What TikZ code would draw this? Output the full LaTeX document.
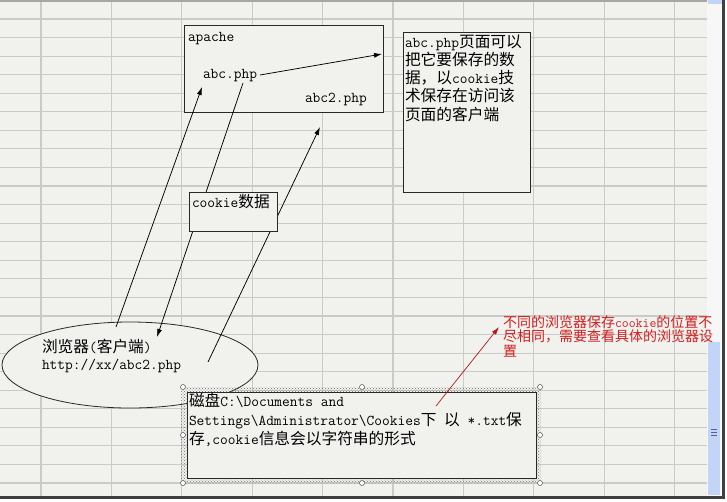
\documentclass[tikz,border=0pt]{standalone}
\usepackage{fontspec}
\newfontfamily\cjk{Noto Sans CJK SC}
\usetikzlibrary{arrows.meta,shapes.geometric,patterns}
\definecolor{bg}{RGB}{241,241,238}
\definecolor{gridc}{RGB}{202,202,200}
\definecolor{frame}{RGB}{40,40,40}
\definecolor{redtxt}{RGB}{210,30,30}
\definecolor{thumb}{RGB}{195,213,246}
\newcommand\zh[1]{{\cjk\fontsize{15.7}{19}\selectfont #1}}
\newcommand\zs[1]{{\cjk\fontsize{14}{14}\selectfont #1}}
\tikzset{
  txt/.style={anchor=base west, inner sep=0, outer sep=0, font=\ttfamily\fontsize{15}{19}\selectfont},
  redtext/.style={txt, text=redtxt, font=\ttfamily\fontsize{13.4}{14}\selectfont},
  box/.style={draw=frame, line width=0.9pt, fill=bg, inner sep=0, outer sep=0},
  arr/.style={draw=black, line width=0.75pt, -{Latex[length=8pt,width=5pt]}},
  handle/.style={circle, draw=black!70, fill=white, line width=0.5pt, minimum size=5pt, inner sep=0},
  gridline/.style={draw=gridc, line width=1.1pt}
}
\begin{document}
\begin{tikzpicture}[x=1pt,y=-1pt]
\useasboundingbox (0,0) rectangle (727,501);
% window background
\fill[white] (0,0) rectangle (727,501);
\fill[bg] (0,0) rectangle (722,497);
\foreach \i in {0,...,25} \draw[gridline] (0,{19+18.56*\i}) -- (707,{19+18.56*\i});
\foreach \i in {0,...,9} \draw[gridline] ({41+70.4*\i},0) -- ({41+70.4*\i},497);
\fill[gray!70] (0,0) rectangle (707,1.5);
% scroll bar
\fill[black!3] (707,1.5) rectangle (722,497);
\fill[thumb] (708,0) rectangle (722,4);
\fill[thumb] (708,342) rectangle (720,495);
\foreach \yy in {429,432,435} \draw[blue!30!gray, line width=0.6pt] (711,\yy) -- (717,\yy);
\fill[black!75] (722,0) rectangle (725,499);
\fill[black!75] (0,496) rectangle (725,499);

% apache box
\node[box, minimum width=199pt, minimum height=87pt] (apache) at (283.5,68.5) {};
\node[txt] (lblApache) at (188,41) {apache};
\node[txt] (abc) at (203,78) {abc.php};
\node[txt] (abcTwo) at (305,102) {abc2.php};
\coordinate (abcOut) at (260,75);
\coordinate (tipA) at (382,54);
\draw[arr] (abcOut) -- (tipA);

% note box
\node[box, minimum width=127pt, minimum height=160pt] (note) at (466.5,112) {};
\node[txt] (note1) at (405,47) {abc.php\zh{页面可以}};
\node[txt] (note2) at (405,65.3) {\zh{把它要保存的数}};
\node[txt] (note3) at (405,83.6) {\zh{据，以}cookie\zh{技}};
\node[txt] (note4) at (405,101.9) {\zh{术保存在访问该}};
\node[txt] (note5) at (405,120.2) {\zh{页面的客户端}};

% browser ellipse
\node[ellipse, draw=frame, line width=0.8pt, fill=bg, inner sep=0, minimum width=256pt, minimum height=86pt] (browser) at (130,365) {};
\node[txt] (browser1) at (42,352) {\zh{浏览器}(\zh{客户端})};
\node[txt] (browser2) at (42,369) {http://xx/abc2.php};

% connectors
\coordinate (b1) at (116,327);
\coordinate (t1) at (202,87);
\coordinate (s2) at (243,83);
\coordinate (t2) at (157,337);
\coordinate (b3) at (208,362);
\coordinate (t3) at (320,127);
\draw[arr] (b1) -- (t1);
\draw[arr] (s2) -- (t2);
\draw[arr] (b3) -- (t3);

% cookie box (covers the middle of the line)
\node[box, minimum width=88pt, minimum height=39pt] (cookie) at (233,211.5) {};
\node[txt] (cookieTxt) at (192,207) {cookie\zh{数据}};

% disk text box (selected)
\fill[pattern=crosshatch dots, pattern color=black!55] (181,387) rectangle (541,483);
\node[box, minimum width=349pt, minimum height=86pt] (disk) at (361.5,435) {};
\node[txt] (disk1) at (189,406) {\zh{磁盘}C:\textbackslash Documents and};
\node[txt] (disk2) at (189,425) {Settings\textbackslash Administrator\textbackslash Cookies\zh{下} \zh{以} *.txt\zh{保}};
\node[txt] (disk3) at (189,444) {\zh{存},cookie\zh{信息会以字符串的形式}};
\foreach \hx/\hy/\n in {183/387/h1, 362/387/h2, 540/387/h3, 183/435/h4, 540/435/h5, 183/483/h6, 362/483/h7, 540/483/h8}
  \node[handle] (\n) at (\hx,\hy) {};

% red annotation
\node[redtext] (red1) at (503,327) {\zs{不同的浏览器保存}cookie\zs{的位置不}};
\node[redtext] (red2) at (503,341.5) {\zs{尽相同，需要查看具体的浏览器设}};
\node[redtext] (red3) at (503,356) {\zs{置}};
\coordinate (redTail) at (436,406);
\coordinate (redTip) at (499,327);
\draw[draw=redtxt!85!black, line width=0.7pt, -{Latex[length=8pt,width=5pt]}] (redTail) -- (redTip);
\end{tikzpicture}
\end{document}
